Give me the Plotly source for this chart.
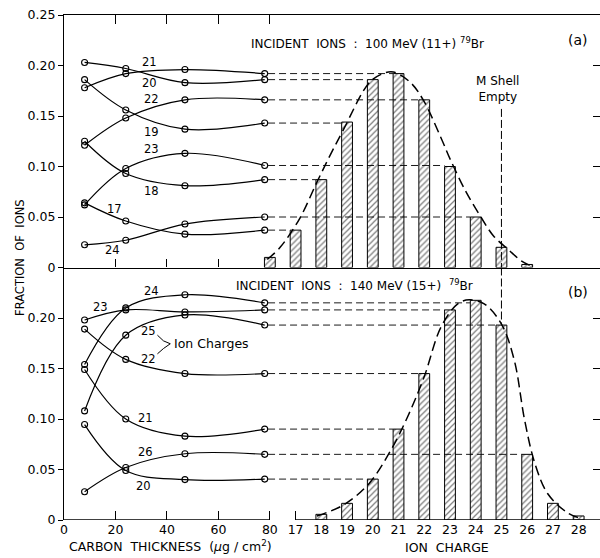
import plotly.graph_objects as go

# ---------------- data ----------------
thickness = [8, 24, 47, 78]  # carbon thickness (ug/cm2)

# panel (a): 100 MeV (11+) 79Br, fraction of ions for each charge state
a_q17 = [0.064, 0.046, 0.033, 0.037]
a_q18 = [0.125, 0.093, 0.081, 0.087]
a_q19 = [0.186, 0.156, 0.137, 0.143]
a_q20 = [0.203, 0.197, 0.183, 0.186]
a_q21 = [0.178, 0.192, 0.196, 0.192]
a_q22 = [0.121, 0.148, 0.166, 0.166]
a_q23 = [0.062, 0.098, 0.113, 0.101]
a_q24 = [0.0225, 0.027, 0.043, 0.050]

a_bar_charges = [16, 17, 18, 19, 20, 21, 22, 23, 24, 25, 26]
a_bar_values = [0.010, 0.037, 0.087, 0.144, 0.186, 0.192, 0.166, 0.100, 0.050, 0.020, 0.003]

a_env_charge = [15.9, 16.4, 17.17, 17.82, 18.34, 18.85, 19.83, 20.3, 20.8, 21.47, 21.98, 22.64, 23.03, 23.6, 24.2, 24.7, 25.26, 25.77, 26.28]
a_env_value = [0.008, 0.020, 0.049, 0.084, 0.111, 0.136, 0.182, 0.191, 0.1935, 0.183, 0.165, 0.129, 0.106, 0.076, 0.050, 0.031, 0.018, 0.0066, 0.0]

# panel (b): 140 MeV (15+) 79Br
b_q20 = [0.0945, 0.049, 0.040, 0.0405]
b_q21 = [0.149, 0.100, 0.083, 0.090]
b_q22 = [0.189, 0.159, 0.145, 0.145]
b_q23 = [0.198, 0.208, 0.206, 0.208]
b_q24 = [0.154, 0.210, 0.223, 0.215]
b_q25 = [0.108, 0.183, 0.203, 0.193]
b_q26 = [0.028, 0.052, 0.0656, 0.065]

b_bar_charges = [18, 19, 20, 21, 22, 23, 24, 25, 26, 27, 28]
b_bar_values = [0.0056, 0.0165, 0.0405, 0.090, 0.145, 0.208, 0.2175, 0.193, 0.065, 0.0165, 0.004]

b_env_charge = [17.83, 18.87, 19.85, 20.7, 21.35, 22.0, 22.65, 23.3, 23.75, 24.33, 25.0, 25.5, 25.9, 26.3, 26.8, 27.6, 28.1]
b_env_value = [0.004, 0.015, 0.036, 0.069, 0.102, 0.142, 0.191, 0.214, 0.218, 0.214, 0.194, 0.158, 0.099, 0.056, 0.026, 0.0066, 0.0016]

mshell_charge = 25
mshell_top_a = 0.157

thick_ticks = [0, 20, 40, 60, 80]
charge_ticks = [17, 18, 19, 20, 21, 22, 23, 24, 25, 26, 27, 28]

# charge axis shares the horizontal scale: charge 16 sits at thickness 80, 10 units per charge
Q0, QSTEP = 16, 10.0


def cpos(q):
    return 80 + (q - Q0) * QSTEP


BAR_W = 4.2
XR = [0, 208.3]
FONT = "DejaVu Sans"

a_series = [(17, a_q17), (18, a_q18), (19, a_q19), (20, a_q20), (21, a_q21), (22, a_q22), (23, a_q23), (24, a_q24)]
b_series = [(20, b_q20), (21, b_q21), (22, b_q22), (23, b_q23), (24, b_q24), (25, b_q25), (26, b_q26)]

fig = go.Figure()


def add_panel(series, bar_q, bar_v, env_q, env_v, yax):
    fig.add_trace(go.Bar(
        x=[cpos(q) for q in bar_q], y=bar_v, width=BAR_W, xaxis="x", yaxis=yax,
        marker=dict(color="white", line=dict(color="black", width=1),
                    pattern=dict(shape="/", fgcolor="black", bgcolor="white", size=4.2, solidity=0.3)),
        showlegend=False))
    for q, vals in series:
        fig.add_trace(go.Scatter(
            x=[thickness[-1] + 1.3, cpos(q) - BAR_W / 2], y=[vals[-1], vals[-1]],
            mode="lines", line=dict(color="black", width=0.9, dash="7px,4px"),
            xaxis="x", yaxis=yax, showlegend=False, hoverinfo="skip"))
    for q, vals in series:
        fig.add_trace(go.Scatter(
            x=thickness, y=vals, mode="lines+markers",
            line=dict(color="black", width=1.2, shape="spline", smoothing=1.0),
            marker=dict(symbol="circle-open", size=6, color="black", line=dict(width=1.1)),
            xaxis="x", yaxis=yax, showlegend=False, name=str(q)))
    fig.add_trace(go.Scatter(
        x=[cpos(q) for q in env_q], y=env_v, mode="lines",
        line=dict(color="black", width=1.5, dash="10px,5px", shape="spline", smoothing=1.0),
        xaxis="x", yaxis=yax, showlegend=False, hoverinfo="skip"))


add_panel(a_series, a_bar_charges, a_bar_values, a_env_charge, a_env_value, "y")
add_panel(b_series, b_bar_charges, b_bar_values, b_env_charge, b_env_value, "y2")

# M shell empty line
b_val25 = b_bar_values[b_bar_charges.index(mshell_charge)]
fig.add_trace(go.Scatter(x=[cpos(mshell_charge)] * 2, y=[mshell_top_a, 0], mode="lines",
                         line=dict(color="black", width=1, dash="8px,3px"),
                         xaxis="x", yaxis="y", showlegend=False, hoverinfo="skip"))
fig.add_trace(go.Scatter(x=[cpos(mshell_charge)] * 2, y=[0.25, b_val25], mode="lines",
                         line=dict(color="black", width=1, dash="8px,3px"),
                         xaxis="x", yaxis="y2", showlegend=False, hoverinfo="skip"))

# dummy traces so decorative axes render
for xa, ya in [("x2", "y2"), ("x3", "y"), ("x4", "y"), ("x", "y3"), ("x", "y4")]:
    fig.add_trace(go.Scatter(x=[None], y=[None], xaxis=xa, yaxis=ya, showlegend=False, hoverinfo="skip"))

# bottom axis line segments (broken between 80 and 17)
for x0, x1 in [(0, 80), (cpos(17), XR[1])]:
    fig.add_shape(type="line", xref="x", yref="y2", x0=x0, x1=x1, y0=0, y1=0,
                  line=dict(color="black", width=1.3))

# bracket for "Ion Charges"
fig.add_shape(type="path", xref="x", yref="y2",
              path="M 36.3,0.183 Q 38.5,0.176 41.3,0.1745 Q 38.5,0.170 36.3,0.1645",
              line=dict(color="black", width=1))

lbl = dict(font=dict(family=FONT, size=11.5, color="black"), showarrow=False)
a_labels = [("21", 33.4, 0.203), ("20", 33.4, 0.1825), ("22", 34.0, 0.1665), ("19", 34.0, 0.134),
            ("23", 34.0, 0.117), ("18", 34.0, 0.0755), ("17", 19.8, 0.0575), ("24", 19.0, 0.017)]
for t, x, y in a_labels:
    fig.add_annotation(text=t, x=x, y=y, xref="x", yref="y", **lbl)
b_labels = [("24", 34.0, 0.227), ("23", 14.0, 0.2105), ("25", 33.0, 0.1875), ("22", 33.0, 0.1595),
            ("21", 31.8, 0.101), ("26", 31.5, 0.0675), ("20", 31.0, 0.034)]
for t, x, y in b_labels:
    fig.add_annotation(text=t, x=x, y=y, xref="x", yref="y2", **lbl)
fig.add_annotation(text="Ion Charges", x=42.0, y=0.1745, xref="x", yref="y2", xanchor="left",
                   font=dict(family=FONT, size=12.5, color="black"), showarrow=False)

tf = dict(family=FONT, size=12, color="black")
fig.add_annotation(text="INCIDENT\u00a0 IONS\u00a0 :\u00a0 100 MeV (11+) <sup>79</sup>Br", x=118.0, y=0.222,
                   xref="x", yref="y", showarrow=False, font=tf)
fig.add_annotation(text="INCIDENT\u00a0 IONS\u00a0 :\u00a0 140 MeV (15+) \u00a0<sup>79</sup>Br", x=113.0, y=0.233,
                   xref="x", yref="y2", showarrow=False, font=tf)
fig.add_annotation(text="(a)", x=199.6, y=0.225, xref="x", yref="y", showarrow=False,
                   font=dict(family=FONT, size=14, color="black"))
fig.add_annotation(text="(b)", x=199.6, y=0.226, xref="x", yref="y2", showarrow=False,
                   font=dict(family=FONT, size=14, color="black"))
fig.add_annotation(text="M Shell<br>Empty", x=168.5, y=0.1766, xref="x", yref="y", showarrow=False,
                   font=dict(family=FONT, size=12, color="black"))

# axis titles
fig.add_annotation(text="FRACTION\u00a0 OF\u00a0 IONS", x=-0.082, y=0.519, xref="paper", yref="paper",
                   xanchor="center", yanchor="middle",
                   textangle=-90, showarrow=False, font=dict(family=FONT, size=11.5, color="black"))
fig.add_annotation(text="CARBON\u00a0 THICKNESS\u00a0 (<i>\u03bc</i>g / cm<sup>2</sup>)", x=41.5, y=-0.052,
                   xref="x", yref="paper", xanchor="center", yanchor="middle", showarrow=False,
                   font=dict(family=FONT, size=12.5, color="black"))
fig.add_annotation(text="ION\u00a0 CHARGE", x=149, y=-0.054, xref="x", yref="paper",
                   xanchor="center", yanchor="middle", showarrow=False,
                   font=dict(family=FONT, size=12.5, color="black"))

common_x = dict(range=XR, showgrid=False, zeroline=False, domain=[0, 1], automargin=False)
tickfont = dict(family=FONT, size=12.5, color="black")

fig.update_layout(
    width=600, height=558,
    margin=dict(l=64, r=0, t=15, b=38, autoexpand=False),
    paper_bgcolor="white", plot_bgcolor="white",
    barmode="overlay",
    xaxis=dict(**common_x, anchor="y2", showline=False, ticks="", ticklen=0,
               tickvals=thick_ticks + [cpos(q) for q in charge_ticks],
               ticktext=[str(t) for t in thick_ticks] + [str(q) for q in charge_ticks],
               tickfont=tickfont),
    xaxis2=dict(**common_x, overlaying="x", anchor="y2", side="bottom", showline=False,
                ticks="inside", ticklen=9, tickwidth=1.2, tickcolor="black",
                tickvals=[20, 40, 60, 80, cpos(17)], showticklabels=False),
    xaxis3=dict(**common_x, overlaying="x", anchor="y", side="top", showline=True, linecolor="black",
                linewidth=1.3, ticks="inside", ticklen=9, tickwidth=1.2, tickcolor="black",
                tickvals=[20, 40, 60, 80], showticklabels=False),
    xaxis4=dict(**common_x, overlaying="x", anchor="y", side="bottom", showline=True, linecolor="black",
                linewidth=1.3, ticks="inside", ticklen=8, tickwidth=1.2, tickcolor="black",
                tickvals=[20, 40, 60], showticklabels=False),
    yaxis=dict(domain=[0.5, 1], range=[0, 0.25], anchor="x", showline=True, linecolor="black", linewidth=1.3,
               ticks="outside", ticklen=5, tickwidth=1.2, tickcolor="black",
               tickvals=[0, 0.05, 0.10, 0.15, 0.20, 0.25],
               ticktext=["0", "0.05", "0.10", "0.15", "0.20", "0.25"],
               tickfont=tickfont, showgrid=False, zeroline=False, automargin=False),
    yaxis2=dict(domain=[0, 0.5], range=[0, 0.25], anchor="x", showline=True, linecolor="black", linewidth=1.3,
                ticks="outside", ticklen=5, tickwidth=1.2, tickcolor="black",
                tickvals=[0, 0.05, 0.10, 0.15, 0.20],
                ticktext=["0", "0.05", "0.10", "0.15", "0.20"],
                tickfont=tickfont, showgrid=False, zeroline=False, automargin=False),
    yaxis3=dict(domain=[0.5, 1], range=[0, 0.25], overlaying="y", side="right", anchor="x", showline=False,
                ticks="inside", ticklen=7, tickwidth=1.2, tickcolor="black", automargin=False,
                tickvals=[0.05, 0.10, 0.15, 0.20], showticklabels=False, showgrid=False, zeroline=False),
    yaxis4=dict(domain=[0, 0.5], range=[0, 0.25], overlaying="y2", side="right", anchor="x", showline=False,
                ticks="inside", ticklen=7, tickwidth=1.2, tickcolor="black", automargin=False,
                tickvals=[0.05, 0.10, 0.15, 0.20], showticklabels=False, showgrid=False, zeroline=False),
)

fig.write_html("out.html", config={"displayModeBar": False},
               post_script="document.body.style.margin='0px';")
